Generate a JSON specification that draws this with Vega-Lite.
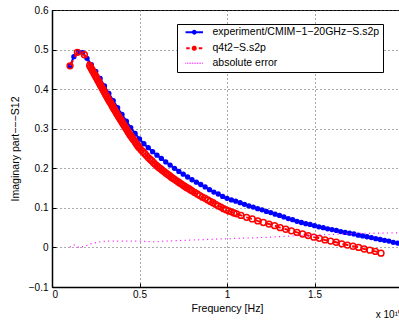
{
  "$schema": "https://vega.github.io/schema/vega-lite/v6.json",
  "autosize": {"type": "none"},
  "padding": {"left": 52, "top": 10, "right": 0, "bottom": 40},
  "width": 350,
  "height": 277,
  "background": "white",
  "config": {
    "font": "Liberation Sans",
    "view": {"stroke": "black", "strokeWidth": 1},
    "axis": {
      "labelFont": "Liberation Sans", "labelFontSize": 10, "labelColor": "black",
      "titleFont": "Liberation Sans", "titleFontSize": 10.6, "titleFontWeight": "normal", "titleColor": "black",
      "domain": true, "domainColor": "black", "domainWidth": 1.5, "ticks": true, "tickColor": "black", "tickSize": -4,
      "grid": true, "gridColor": "#555555", "gridDash": [1, 3], "gridOpacity": 1, "gridWidth": 1
    },
    "legend": {
      "orient": "none", "legendX": 125, "legendY": 14,
      "fillColor": "white", "strokeColor": "black", "strokeWidth": 1, "padding": 3,
      "labelFont": "Liberation Sans", "labelFontSize": 10.5, "labelColor": "black", "labelLimit": 400,
      "symbolSize": 306, "symbolStrokeWidth": 2, "rowPadding": 4, "symbolOffset": 9, "labelOffset": 13, "cornerRadius": 0
    }
  },
  "title": {"text": "x 10¹⁰", "orient": "bottom", "anchor": "end", "frame": "group", "font": "Liberation Sans", "fontSize": 10, "fontWeight": "normal", "color": "black", "offset": -4},
  "datasets": {
    "exp": [
      {"f":0.103,"v":0.459},{"f":0.125,"v":0.482},{"f":0.15,"v":0.494},{"f":0.175,"v":0.492},
      {"f":0.2,"v":0.478},{"f":0.225,"v":0.462},{"f":0.25,"v":0.445},{"f":0.275,"v":0.427},
      {"f":0.3,"v":0.408},{"f":0.325,"v":0.389},{"f":0.35,"v":0.371},{"f":0.375,"v":0.353},
      {"f":0.4,"v":0.336},{"f":0.425,"v":0.319},{"f":0.45,"v":0.303},{"f":0.475,"v":0.288},
      {"f":0.5,"v":0.274},{"f":0.525,"v":0.262},{"f":0.55,"v":0.252},{"f":0.575,"v":0.242},
      {"f":0.6,"v":0.233},{"f":0.625,"v":0.225},{"f":0.65,"v":0.216},{"f":0.675,"v":0.208},
      {"f":0.7,"v":0.2},{"f":0.725,"v":0.192},{"f":0.75,"v":0.185},{"f":0.775,"v":0.178},
      {"f":0.8,"v":0.171},{"f":0.825,"v":0.165},{"f":0.85,"v":0.159},{"f":0.875,"v":0.153},
      {"f":0.9,"v":0.146},{"f":0.925,"v":0.14},{"f":0.95,"v":0.135},{"f":0.975,"v":0.129},
      {"f":1.0,"v":0.124},{"f":1.025,"v":0.12},{"f":1.05,"v":0.117},{"f":1.075,"v":0.113},
      {"f":1.1,"v":0.109},{"f":1.125,"v":0.105},{"f":1.15,"v":0.102},{"f":1.175,"v":0.098},
      {"f":1.2,"v":0.095},{"f":1.225,"v":0.091},{"f":1.25,"v":0.088},{"f":1.275,"v":0.084},
      {"f":1.3,"v":0.081},{"f":1.325,"v":0.077},{"f":1.35,"v":0.073},{"f":1.375,"v":0.07},
      {"f":1.4,"v":0.066},{"f":1.425,"v":0.063},{"f":1.45,"v":0.06},{"f":1.475,"v":0.058},
      {"f":1.5,"v":0.055},{"f":1.525,"v":0.052},{"f":1.55,"v":0.05},{"f":1.575,"v":0.047},
      {"f":1.6,"v":0.045},{"f":1.625,"v":0.043},{"f":1.65,"v":0.04},{"f":1.675,"v":0.038},
      {"f":1.7,"v":0.036},{"f":1.725,"v":0.034},{"f":1.75,"v":0.031},{"f":1.775,"v":0.029},
      {"f":1.8,"v":0.027},{"f":1.825,"v":0.025},{"f":1.85,"v":0.022},{"f":1.875,"v":0.02},
      {"f":1.9,"v":0.018},{"f":1.925,"v":0.016},{"f":1.95,"v":0.013},{"f":1.975,"v":0.011},
      {"f":2.0,"v":0.009}
    ],
    "q4t2": [
      {"f":0.103,"v":0.459},{"f":0.145,"v":0.493},{"f":0.185,"v":0.487},
      {"f":0.215,"v":0.46},{"f":0.22,"v":0.456},{"f":0.225,"v":0.452},{"f":0.23,"v":0.448},
      {"f":0.235,"v":0.444},{"f":0.24,"v":0.44},{"f":0.245,"v":0.436},{"f":0.25,"v":0.432},
      {"f":0.255,"v":0.428},{"f":0.26,"v":0.424},{"f":0.265,"v":0.42},{"f":0.27,"v":0.416},
      {"f":0.275,"v":0.412},{"f":0.28,"v":0.408},{"f":0.285,"v":0.404},{"f":0.29,"v":0.4},
      {"f":0.295,"v":0.396},{"f":0.3,"v":0.392},{"f":0.305,"v":0.388},{"f":0.31,"v":0.384},
      {"f":0.315,"v":0.38},{"f":0.32,"v":0.376},{"f":0.325,"v":0.372},{"f":0.33,"v":0.368},
      {"f":0.335,"v":0.365},{"f":0.34,"v":0.361},{"f":0.345,"v":0.357},{"f":0.35,"v":0.353},
      {"f":0.355,"v":0.349},{"f":0.36,"v":0.346},{"f":0.365,"v":0.342},{"f":0.37,"v":0.338},
      {"f":0.375,"v":0.335},{"f":0.38,"v":0.331},{"f":0.385,"v":0.328},{"f":0.39,"v":0.324},
      {"f":0.395,"v":0.321},{"f":0.4,"v":0.317},{"f":0.405,"v":0.313},{"f":0.41,"v":0.31},
      {"f":0.415,"v":0.306},{"f":0.42,"v":0.303},{"f":0.425,"v":0.299},{"f":0.43,"v":0.296},
      {"f":0.435,"v":0.292},{"f":0.44,"v":0.289},{"f":0.445,"v":0.285},{"f":0.45,"v":0.282},
      {"f":0.455,"v":0.279},{"f":0.46,"v":0.276},{"f":0.465,"v":0.273},{"f":0.47,"v":0.27},
      {"f":0.475,"v":0.267},{"f":0.48,"v":0.263},{"f":0.485,"v":0.26},{"f":0.49,"v":0.257},
      {"f":0.495,"v":0.254},{"f":0.5,"v":0.251},{"f":0.51,"v":0.246},{"f":0.52,"v":0.242},
      {"f":0.53,"v":0.237},{"f":0.54,"v":0.232},{"f":0.55,"v":0.227},{"f":0.56,"v":0.223},
      {"f":0.57,"v":0.219},{"f":0.58,"v":0.214},{"f":0.59,"v":0.21},{"f":0.6,"v":0.206},
      {"f":0.61,"v":0.202},{"f":0.62,"v":0.199},{"f":0.63,"v":0.195},{"f":0.64,"v":0.192},
      {"f":0.65,"v":0.188},{"f":0.66,"v":0.185},{"f":0.67,"v":0.182},{"f":0.68,"v":0.178},
      {"f":0.69,"v":0.175},{"f":0.7,"v":0.172},{"f":0.71,"v":0.169},{"f":0.72,"v":0.166},
      {"f":0.73,"v":0.163},{"f":0.74,"v":0.16},{"f":0.75,"v":0.157},{"f":0.76,"v":0.154},
      {"f":0.77,"v":0.151},{"f":0.78,"v":0.149},{"f":0.79,"v":0.146},{"f":0.8,"v":0.143},
      {"f":0.815,"v":0.139},{"f":0.83,"v":0.135},{"f":0.845,"v":0.131},{"f":0.86,"v":0.127},
      {"f":0.875,"v":0.124},{"f":0.89,"v":0.12},{"f":0.905,"v":0.116},{"f":0.92,"v":0.113},
      {"f":0.935,"v":0.109},{"f":0.95,"v":0.105},{"f":0.965,"v":0.102},{"f":0.98,"v":0.098},
      {"f":0.995,"v":0.095},{"f":1.01,"v":0.092},{"f":1.025,"v":0.09},{"f":1.04,"v":0.087},
      {"f":1.055,"v":0.085},{"f":1.08,"v":0.081},{"f":1.112,"v":0.076},{"f":1.144,"v":0.072},
      {"f":1.176,"v":0.067},{"f":1.208,"v":0.063},{"f":1.24,"v":0.059},{"f":1.272,"v":0.055},
      {"f":1.304,"v":0.05},{"f":1.336,"v":0.046},{"f":1.368,"v":0.042},{"f":1.4,"v":0.038},
      {"f":1.432,"v":0.034},{"f":1.464,"v":0.03},{"f":1.496,"v":0.026},{"f":1.528,"v":0.023},
      {"f":1.56,"v":0.019},{"f":1.592,"v":0.016},{"f":1.624,"v":0.013},{"f":1.656,"v":0.009},
      {"f":1.688,"v":0.006},{"f":1.72,"v":0.003},{"f":1.752,"v":0.0},{"f":1.784,"v":-0.004},
      {"f":1.816,"v":-0.007},{"f":1.848,"v":-0.01},{"f":1.88,"v":-0.0145}
    ],
    "err": [
      {"f":0.103,"v":0.001},{"f":0.124,"v":0.007},{"f":0.153,"v":0.0},{"f":0.19,"v":0.003},
      {"f":0.22,"v":0.009},{"f":0.25,"v":0.012},{"f":0.286,"v":0.015},{"f":0.33,"v":0.016},
      {"f":0.38,"v":0.016},{"f":0.44,"v":0.016},{"f":0.5,"v":0.016},{"f":0.573,"v":0.014},
      {"f":0.65,"v":0.016},{"f":0.76,"v":0.018},{"f":0.88,"v":0.02},{"f":1.0,"v":0.022},
      {"f":1.13,"v":0.024},{"f":1.25,"v":0.026},{"f":1.42,"v":0.03},{"f":1.55,"v":0.032},
      {"f":1.7,"v":0.035},{"f":1.85,"v":0.036},{"f":2.0,"v":0.037}
    ]
  },
  "encoding": {
    "x": {"field": "f", "type": "quantitative",
      "scale": {"domain": [0, 2], "nice": false, "zero": false},
      "axis": {"values": [0, 0.5, 1, 1.5], "format": "~g", "title": "Frequency [Hz]", "labelPadding": 6, "titlePadding": 4}},
    "y": {"field": "v", "type": "quantitative",
      "scale": {"domain": [-0.1, 0.6], "nice": false, "zero": false},
      "axis": {"values": [-0.1, 0, 0.1, 0.2, 0.3, 0.4, 0.5, 0.6], "format": ".1~f", "title": "Imaginary part−−−S12", "labelPadding": 8, "titlePadding": 8}}
  },
  "layer": [
    {
      "data": {"name": "exp"},
      "mark": {"type": "line", "strokeWidth": 2, "clip": true},
      "encoding": {
        "color": {"datum": "experiment/CMIM−1−20GHz−S.s2p", "type": "nominal",
          "scale": {"domain": ["experiment/CMIM−1−20GHz−S.s2p", "q4t2−S.s2p", "absolute error"], "range": ["#0000ff", "#ff0000", "#ff00ff"]},
          "legend": {"title": null,
            "encode": {"symbols": {"update": {
              "shape": {"signal": "datum.value === 'q4t2−S.s2p' ? 'M-0.92,0H-0.52M0.52,0H0.92M-0.18,0H0.18M-0.18,0A0.18,0.18,0,1,1,0.18,0A0.18,0.18,0,1,1,-0.18,0Z' : (datum.value === 'absolute error' ? 'M-1,0h0.07M-0.81,0h0.07M-0.62,0h0.07M-0.43,0h0.07M-0.24,0h0.07M-0.05,0h0.07M0.14,0h0.07M0.33,0h0.07M0.52,0h0.07M0.71,0h0.07M0.9,0h0.07' : 'M-1,0H1M-0.16,0A0.16,0.16,0,1,1,0.16,0A0.16,0.16,0,1,1,-0.16,0Z')"},
              "fill": {"signal": "datum.value === 'q4t2−S.s2p' || datum.value === 'absolute error' ? 'transparent' : '#0000ff'"},
              "strokeWidth": {"signal": "datum.value === 'absolute error' ? 1.3 : 2"},
              "strokeDash": {"value": [1, 0]},
              "opacity": {"value": 1}
            }}}
          }}
      }
    },
    {
      "data": {"name": "exp"},
      "mark": {"type": "point", "filled": true, "size": 28, "color": "#0000ff", "opacity": 1, "clip": true}
    },
    {
      "data": {"name": "q4t2"},
      "mark": {"type": "line", "strokeWidth": 2, "strokeDash": [6, 4], "clip": true},
      "encoding": {"color": {"datum": "q4t2−S.s2p", "type": "nominal"}}
    },
    {
      "data": {"name": "q4t2"},
      "mark": {"type": "point", "filled": false, "size": 34, "strokeWidth": 1.5, "color": "#ff0000", "opacity": 1, "clip": true}
    },
    {
      "data": {"name": "err"},
      "mark": {"type": "line", "strokeWidth": 1.2, "strokeDash": [1, 3.5], "clip": true},
      "encoding": {"color": {"datum": "absolute error", "type": "nominal"}}
    }
  ]
}
